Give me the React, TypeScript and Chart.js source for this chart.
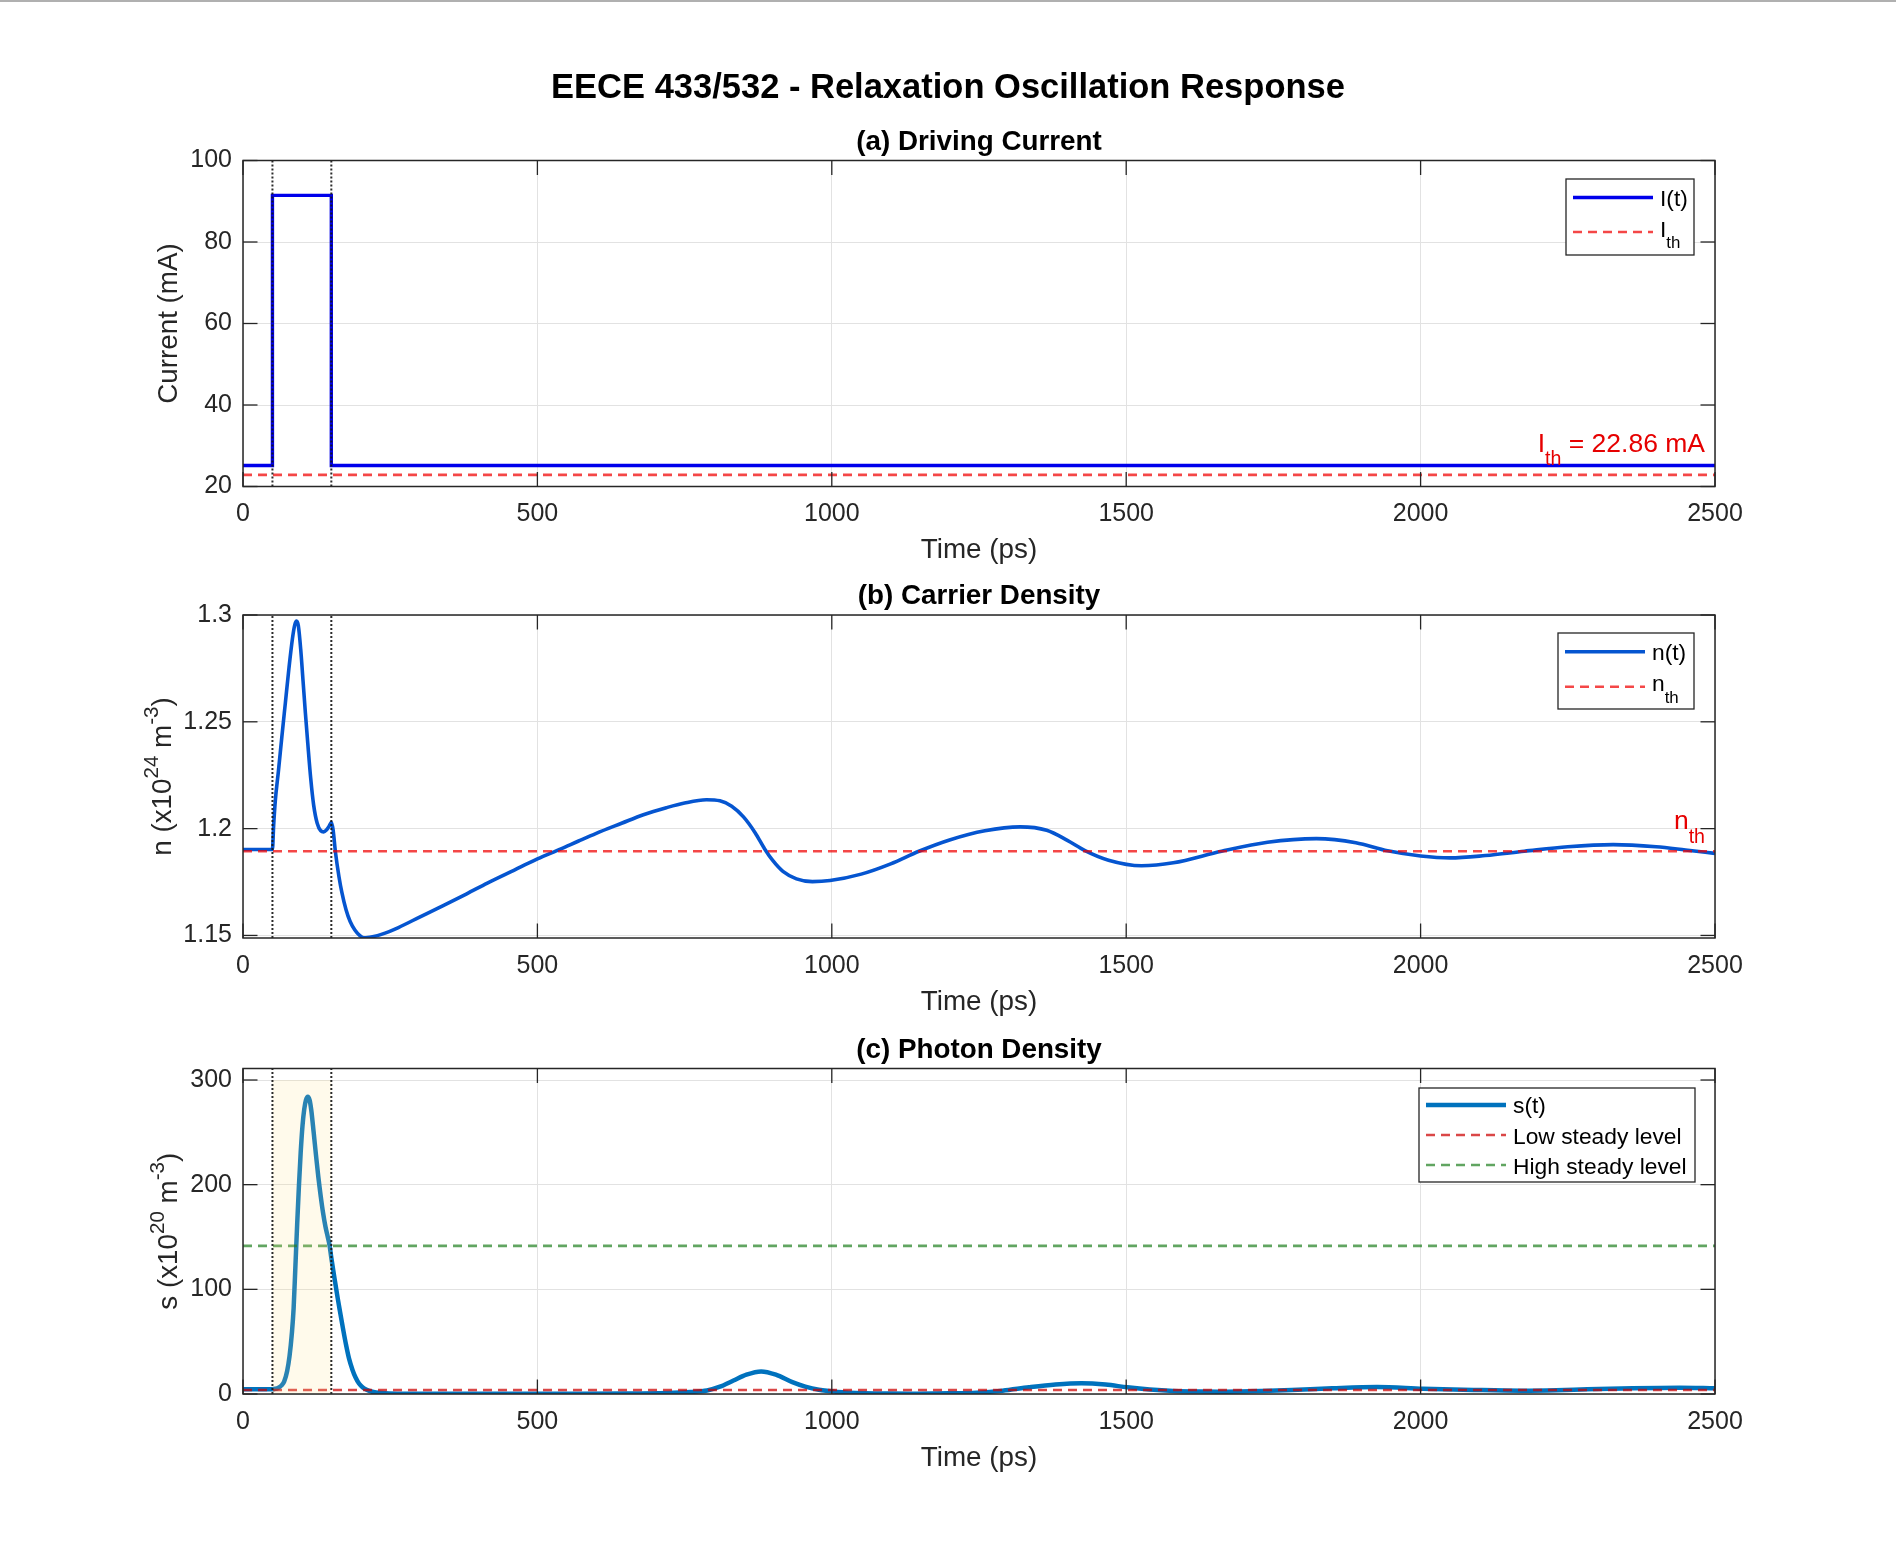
import { useEffect, useRef } from "react";
import Chart from "chart.js/auto";

const FIG_W = 1896;
const FIG_H = 1559;
const LEFT = 243;
const RIGHT = 1715;
const X_BAND = 60;
const TICK = 14.5;
const FONT = "'Liberation Sans', Arial, Helvetica, sans-serif";
const INK = "#262626";
const GRID = "#e2e2e2";

// shared time axis (ps)
const timeTicks = [0, 500, 1000, 1500, 2000, 2500];
const pulseEdges = [50, 150];

// (a) driving current, mA
const currentTime = [0, 50, 50, 150, 150, 2500];
const currentValue = [25.15, 25.15, 91.44, 91.44, 25.15, 25.15];
const currentThreshold = 22.86;
const currentTicks = [20, 40, 60, 80, 100];

// (b) carrier density, x1e24 m^-3
const carrierTime = [
  0, 50, 52, 55, 60, 66, 72, 78, 84, 88, 91, 94, 98, 102, 106, 110, 115, 120, 126, 132,
  137, 142, 146, 150, 153, 157, 163, 168, 175, 182, 190, 198, 205, 212, 220, 235, 264, 300,
  340, 380, 415, 460, 500, 540, 570, 600, 643, 680, 719, 750, 787, 810, 830, 850, 870, 886,
  900, 917, 940, 967, 997, 1050, 1100, 1148, 1200, 1260, 1320, 1365, 1400, 1430, 1470, 1526,
  1580, 1662, 1740, 1823, 1890, 1944, 2000, 2050, 2110, 2176, 2250, 2327, 2400, 2450, 2500,
];
const carrierValue = [
  1.1902, 1.1902, 1.2012, 1.2135, 1.2265, 1.243, 1.259, 1.275, 1.289, 1.2955, 1.2972, 1.295,
  1.284, 1.269, 1.254, 1.24, 1.2235, 1.211, 1.2025, 1.199, 1.1985, 1.1995, 1.201, 1.203,
  1.1995, 1.189, 1.1775, 1.17, 1.162, 1.1565, 1.1525, 1.15, 1.1489, 1.149, 1.1494,
  1.1505, 1.1537, 1.1586, 1.164, 1.1695, 1.1745, 1.1805, 1.1858, 1.1905, 1.1942, 1.1978,
  1.2025, 1.2065, 1.2098, 1.212, 1.2135, 1.213, 1.2105, 1.2055, 1.198, 1.1905, 1.185, 1.18,
  1.1765, 1.1752, 1.1757, 1.1787, 1.1835, 1.1894, 1.1947, 1.199, 1.2008, 1.1992, 1.1945,
  1.1897, 1.1852, 1.1826, 1.184, 1.1894, 1.1936, 1.1953, 1.1934, 1.1896, 1.1872, 1.1863,
  1.1874, 1.1894, 1.1915, 1.1925, 1.1915, 1.19, 1.1884,
];
const carrierThreshold = 1.1894;
const carrierTicks = [1.15, 1.2, 1.25, 1.3];

// (c) photon density, x1e20 m^-3
const photonTime = [
  0, 50, 55, 60, 66, 70, 75, 79, 83, 86, 89, 92, 95, 98, 101, 104, 107, 110, 113, 116, 120,
  124, 128, 132, 136, 140, 144, 147, 150, 153, 157, 161, 165, 170, 175, 180, 186, 191, 197,
  203, 210, 218, 226, 236, 248, 265, 290, 350, 450, 550, 650, 720, 760, 788, 810, 833, 855,
  880, 905, 933, 955, 978, 1010, 1056, 1100, 1145, 1200, 1246, 1290, 1335, 1380, 1424, 1465,
  1502, 1540, 1580, 1625, 1670, 1730, 1781, 1850, 1926, 2004, 2090, 2172, 2230, 2283, 2360,
  2440, 2500,
];
const photonValue = [
  4.5, 4.5, 5, 6, 8.5, 12, 22, 36, 58, 82, 122, 162, 199, 231, 256, 272, 281, 284, 281, 271,
  250, 228, 207, 189, 173, 160, 150, 142, 130, 119, 105, 91, 78, 62, 47, 34, 23, 16, 10, 6.5,
  4, 2.4, 1.5, 0.9, 0.5, 0.3, 0.2, 0.15, 0.15, 0.2, 0.4, 1, 2, 3.4, 7, 12.9, 18.5, 21.6, 18.5,
  11.3, 7, 4, 2, 0.8, 0.4, 0.3, 0.6, 1.3, 3.2, 6.4, 9, 10.2, 9, 6.4, 4.3, 2.9, 2.3, 2.2, 2.8,
  3.8, 5.5, 6.7, 5.1, 3.9, 3.2, 3.6, 4.5, 5.5, 6, 5.5,
];
const photonLow = 3.8;
const photonHigh = 141.5;
const photonTicks = [0, 100, 200, 300];
const shadeSpan = [0, 300];

type Run = { t: string; s?: "sub" | "sup" };
type Series = { data: { x: number; y: number }[]; color: string; width: number; dash?: number[]; smooth?: boolean; order: number };
type LegendRow = { y: number; color: string; width: number; dash?: number[]; runs: Run[]; base: number };
type PanelSpec = {
  key: string;
  top: number;
  bottom: number;
  yMin: number;
  yMax: number;
  yTicks: number[];
  title: string;
  ylabel: Run[];
  ylabelX: number;
  series: Series[];
  legend: { right: number; top: number; w: number; h: number; rows: LegendRow[] };
  note?: { runs: Run[]; value: number; dy: number; size: number };
  shade?: boolean;
  suptitle?: string;
};

const xy = (ts: number[], vs: number[]) => ts.map((t, i) => ({ x: t, y: vs[i] }));
const flat = (v: number) => [{ x: 0, y: v }, { x: 2500, y: v }];

const BLUE_I = "rgb(0,0,235)";
const BLUE_N = "rgb(5,85,208)";
const BLUE_S = "rgb(0,114,189)";
const RED = "rgba(240,0,0,0.72)";
const RED_C = "rgba(204,0,0,0.72)";
const GREEN = "rgba(0,110,0,0.62)";
const DASH = [9, 6];
const REF_W = 2.6;

const panels: PanelSpec[] = [
  {
    key: "a",
    top: 160.5,
    bottom: 486.5,
    yMin: 20,
    yMax: 100,
    yTicks: currentTicks,
    title: "(a) Driving Current",
    suptitle: "EECE 433/532 - Relaxation Oscillation Response",
    ylabel: [{ t: "Current (mA)" }],
    ylabelX: 177,
    series: [
      { data: flat(currentThreshold), color: RED, width: REF_W, dash: DASH, order: 0 },
      { data: xy(currentTime, currentValue), color: BLUE_I, width: 3.4, order: 1 },
    ],
    legend: {
      right: 21, top: 18.5, w: 128, h: 76,
      rows: [
        { y: 18.5, color: BLUE_I, width: 3.4, runs: [{ t: "I(t)" }], base: 8.5 },
        { y: 53, color: RED, width: REF_W, dash: DASH, runs: [{ t: "I" }, { t: "th", s: "sub" }], base: 4.5 },
      ],
    },
    note: { runs: [{ t: "I" }, { t: "th", s: "sub" }, { t: " = 22.86 mA" }], value: 25.15, dy: -14, size: 26.5 },
  },
  {
    key: "b",
    top: 615,
    bottom: 938,
    yMin: 1.1488,
    yMax: 1.3,
    yTicks: carrierTicks,
    title: "(b) Carrier Density",
    ylabel: [{ t: "n (x10" }, { t: "24", s: "sup" }, { t: " m" }, { t: "-3", s: "sup" }, { t: ")" }],
    ylabelX: 171,
    series: [
      { data: flat(carrierThreshold), color: RED, width: REF_W, dash: DASH, order: 0 },
      { data: xy(carrierTime, carrierValue), color: BLUE_N, width: 3.6, smooth: true, order: 1 },
    ],
    legend: {
      right: 21, top: 18, w: 136, h: 76,
      rows: [
        { y: 18.7, color: BLUE_N, width: 3.6, runs: [{ t: "n(t)" }], base: 8.5 },
        { y: 53.7, color: RED, width: REF_W, dash: DASH, runs: [{ t: "n" }, { t: "th", s: "sub" }], base: 4.5 },
      ],
    },
    note: { runs: [{ t: "n" }, { t: "th", s: "sub" }], value: carrierThreshold, dy: -22, size: 26.5 },
  },
  {
    key: "c",
    top: 1068.5,
    bottom: 1394,
    yMin: 0,
    yMax: 311,
    yTicks: photonTicks,
    title: "(c) Photon Density",
    ylabel: [{ t: "s (x10" }, { t: "20", s: "sup" }, { t: " m" }, { t: "-3", s: "sup" }, { t: ")" }],
    ylabelX: 177,
    shade: true,
    series: [
      { data: flat(photonLow), color: RED_C, width: REF_W, dash: DASH, order: 0 },
      { data: flat(photonHigh), color: GREEN, width: REF_W, dash: DASH, order: 0 },
      { data: xy(photonTime, photonValue), color: BLUE_S, width: 4.5, smooth: true, order: 1 },
    ],
    legend: {
      right: 20, top: 19.5, w: 276, h: 94,
      rows: [
        { y: 17, color: BLUE_S, width: 4.5, runs: [{ t: "s(t)" }], base: 8 },
        { y: 47, color: RED_C, width: REF_W, dash: DASH, runs: [{ t: "Low steady level" }], base: 8.5 },
        { y: 77, color: GREEN, width: REF_W, dash: DASH, runs: [{ t: "High steady level" }], base: 8.5 },
      ],
    },
  },
];

function drawRuns(
  ctx: CanvasRenderingContext2D,
  runs: Run[],
  x: number,
  y: number,
  size: number,
  align: "left" | "center" | "right",
  color: string,
  weight = "normal",
  rotate = false
) {
  ctx.save();
  ctx.fillStyle = color;
  ctx.textBaseline = "alphabetic";
  ctx.textAlign = "left";
  const fontFor = (r: Run) => `${weight} ${r.s ? size * 0.74 : size}px ${FONT}`;
  let total = 0;
  const widths = runs.map((r) => {
    ctx.font = fontFor(r);
    const w = ctx.measureText(r.t).width;
    total += w;
    return w;
  });
  ctx.translate(x, y);
  if (rotate) ctx.rotate(-Math.PI / 2);
  let cx = align === "center" ? -total / 2 : align === "right" ? -total : 0;
  runs.forEach((r, i) => {
    ctx.font = fontFor(r);
    const dy = r.s === "sub" ? size * 0.5 : r.s === "sup" ? -size * 0.45 : 0;
    ctx.fillText(r.t, cx, dy);
    cx += widths[i];
  });
  ctx.restore();
}

function panelPlugin(spec: PanelSpec) {
  return {
    id: "panel-" + spec.key,
    afterDatasetsDraw(chart: any) {
      const { ctx, chartArea: a } = chart;
      const xs = chart.scales.x;
      const ys = chart.scales.y;
      ctx.save();
      ctx.beginPath();
      ctx.rect(a.left, a.top, a.right - a.left, a.bottom - a.top);
      ctx.clip();
      if (spec.shade) {
        const x0 = xs.getPixelForValue(pulseEdges[0]);
        const x1 = xs.getPixelForValue(pulseEdges[1]);
        const y0 = ys.getPixelForValue(shadeSpan[0]);
        const y1 = ys.getPixelForValue(shadeSpan[1]);
        ctx.fillStyle = "rgba(255,222,130,0.16)";
        ctx.fillRect(x0, y1, x1 - x0, y0 - y1);
      }
      ctx.strokeStyle = "rgba(20,20,20,0.9)";
      ctx.lineWidth = 2;
      ctx.setLineDash([2, 2]);
      for (const t of pulseEdges) {
        const px = xs.getPixelForValue(t);
        ctx.beginPath();
        ctx.moveTo(px, a.bottom);
        ctx.lineTo(px, a.top);
        ctx.stroke();
      }
      ctx.restore();
    },
    afterDraw(chart: any) {
      const { ctx, chartArea: a } = chart;
      const xs = chart.scales.x;
      const ys = chart.scales.y;
      const line = (x0: number, y0: number, x1: number, y1: number) => {
        ctx.beginPath();
        ctx.moveTo(x0, y0);
        ctx.lineTo(x1, y1);
        ctx.stroke();
      };
      ctx.save();
      ctx.setLineDash([]);
      ctx.strokeStyle = INK;
      ctx.lineWidth = 1.3;
      for (const t of timeTicks) {
        const px = xs.getPixelForValue(t);
        line(px, a.bottom, px, a.bottom - TICK);
        line(px, a.top, px, a.top + TICK);
      }
      for (const v of spec.yTicks) {
        const py = ys.getPixelForValue(v);
        if (py < a.top - 2 || py > a.bottom + 2) continue;
        line(a.left, py, a.left + TICK, py);
        line(a.right, py, a.right - TICK, py);
      }
      ctx.lineWidth = 1.5;
      ctx.strokeRect(a.left, a.top, a.right - a.left, a.bottom - a.top);

      const midX = (a.left + a.right) / 2;
      if (spec.suptitle) drawRuns(ctx, [{ t: spec.suptitle }], FIG_W / 2, 98, 34.5, "center", "#000", "bold");
      drawRuns(ctx, [{ t: spec.title }], midX, a.top - 11, 27.8, "center", "#000", "bold");
      drawRuns(ctx, [{ t: "Time (ps)" }], midX, a.bottom + 71.5, 27.8, "center", INK);
      drawRuns(ctx, spec.ylabel, spec.ylabelX, (a.top + a.bottom) / 2, 27.8, "center", INK, "normal", true);

      if (spec.note) {
        const n = spec.note;
        drawRuns(ctx, n.runs, a.right - 10, ys.getPixelForValue(n.value) + n.dy, n.size, "right", "rgb(230,0,0)");
      }

      const lg = spec.legend;
      const bx = a.right - lg.right - lg.w;
      const by = a.top + lg.top;
      ctx.fillStyle = "#fff";
      ctx.fillRect(bx, by, lg.w, lg.h);
      ctx.strokeStyle = INK;
      ctx.lineWidth = 1.3;
      ctx.strokeRect(bx, by, lg.w, lg.h);
      for (const r of lg.rows) {
        ctx.strokeStyle = r.color;
        ctx.lineWidth = r.width;
        ctx.setLineDash(r.dash ?? []);
        line(bx + 7, by + r.y, bx + 87, by + r.y);
        ctx.setLineDash([]);
        drawRuns(ctx, r.runs, bx + 94, by + r.y + r.base, 22.8, "left", "#000");
      }
      ctx.restore();
    },
  };
}

function buildConfig(spec: PanelSpec): any {
  const tickFont = { family: FONT, size: 25 };
  return {
    type: "line",
    data: {
      datasets: spec.series.map((s) => ({
        data: s.data,
        borderColor: s.color,
        borderWidth: s.width,
        borderDash: s.dash ?? [],
        pointRadius: 0,
        fill: false,
        tension: 0,
        cubicInterpolationMode: s.smooth ? "monotone" : "default",
        order: s.order,
        clip: 0,
      })),
    },
    options: {
      responsive: false,
      animation: false,
      devicePixelRatio: 1,
      events: [],
      layout: { padding: { left: 0, right: FIG_W - RIGHT, top: spec.top, bottom: FIG_H - spec.bottom - X_BAND } },
      plugins: { legend: { display: false }, tooltip: { enabled: false }, title: { display: false } },
      scales: {
        x: {
          type: "linear",
          min: 0,
          max: 2500,
          afterBuildTicks: (sc: any) => {
            sc.ticks = timeTicks.map((v) => ({ value: v }));
          },
          afterFit: (sc: any) => {
            sc.height = X_BAND;
          },
          grid: { color: GRID, lineWidth: 1, drawTicks: false },
          border: { display: false },
          ticks: { padding: 13, color: INK, font: tickFont, maxRotation: 0, autoSkip: false, callback: (v: any) => String(v) },
        },
        y: {
          type: "linear",
          min: spec.yMin,
          max: spec.yMax,
          afterBuildTicks: (sc: any) => {
            sc.ticks = spec.yTicks.map((v) => ({ value: v }));
          },
          afterFit: (sc: any) => {
            sc.width = LEFT;
          },
          grid: { color: GRID, lineWidth: 1, drawTicks: false },
          border: { display: false },
          ticks: {
            padding: 11,
            color: INK,
            font: tickFont,
            autoSkip: false,
            callback: (v: any) => String(Math.round(Number(v) * 100) / 100),
          },
        },
      },
    },
    plugins: [panelPlugin(spec)],
  };
}

function Panel({ spec }: { spec: PanelSpec }) {
  const ref = useRef<HTMLCanvasElement>(null);
  useEffect(() => {
    const canvas = ref.current;
    if (!canvas) return;
    const chart = new Chart(canvas, buildConfig(spec));
    return () => chart.destroy();
  }, [spec]);
  return (
    <canvas
      ref={ref}
      width={FIG_W}
      height={FIG_H}
      style={{ position: "absolute", left: 0, top: 0, width: FIG_W, height: FIG_H }}
    />
  );
}

export default function App() {
  return (
    <div style={{ position: "absolute", left: 0, top: 0, width: FIG_W, height: FIG_H, background: "#fff", overflow: "hidden" }}>
      <div style={{ position: "absolute", left: 0, top: 0, width: FIG_W, height: 2, background: "#b0b0b0" }} />
      {panels.map((p) => (
        <Panel key={p.key} spec={p} />
      ))}
    </div>
  );
}
